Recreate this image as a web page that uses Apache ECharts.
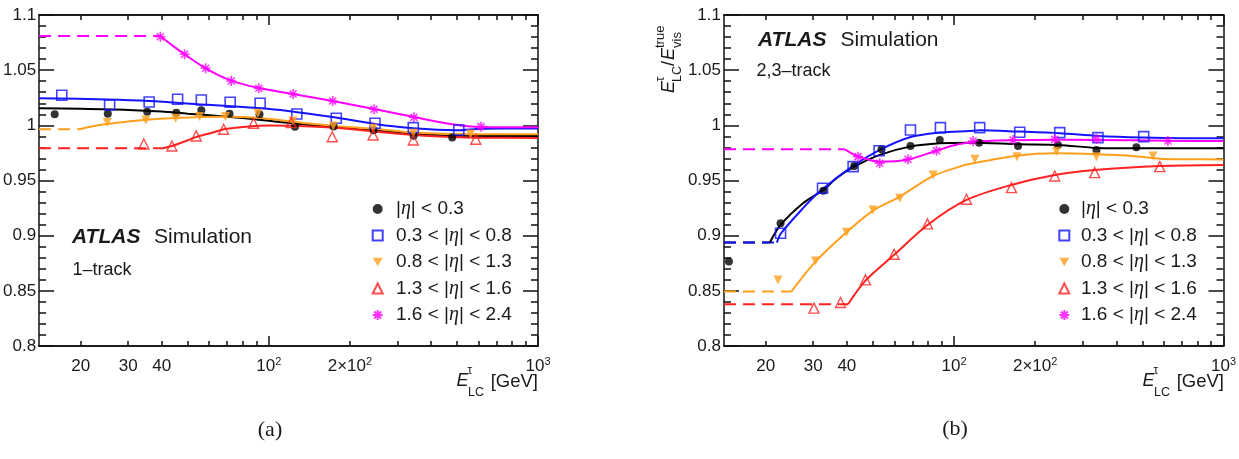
<!DOCTYPE html>
<html>
<head>
<meta charset="utf-8">
<title>tau energy response</title>
<script src="https://cdn.jsdelivr.net/npm/echarts@6.0.0/dist/echarts.min.js"></script>
<style>
    html, body { margin: 0; padding: 0; background: #fff; }
    #main { width: 1239px; height: 459px; }
</style>
</head>
<body>
<div id="main"></div>
<script>
    var bins = ['|η| < 0.3', '0.3 < |η| < 0.8', '0.8 < |η| < 1.3', '1.3 < |η| < 1.6', '1.6 < |η| < 2.4'];
    var xLabelTicks = [20, 30, 40, 100, 200, 1000];
    var xMajorTicks = [100, 1000];
    var xMinorTicks = [20, 30, 40, 50, 60, 70, 80, 90, 200, 300, 400, 500, 600, 700, 800, 900];

    // (a) 1-track : points [E, ratio], fit curve, flat extrapolation
    var aBlackPts = [[16.0, 1.0100], [25.2, 1.0106], [35.3, 1.0124], [45.3, 1.0115], [56.1, 1.0136], [71.4, 1.0106], [92.3, 1.0100], [125, 0.9988], [174, 0.9990], [245, 0.9955], [345, 0.9905], [480, 0.9890]];
    var aBlackFit = [[14, 1.0155], [20, 1.0150], [30, 1.0140], [40, 1.0125], [50, 1.0105], [65, 1.0085], [85, 1.0060], [110, 1.0030], [140, 1.0005], [175, 0.9985], [245, 0.9955], [345, 0.9925], [480, 0.9905], [1000, 0.9903]];
    var aBluePts = [[17.0, 1.0272], [25.6, 1.0185], [35.9, 1.0212], [45.8, 1.0236], [56.1, 1.0230], [71.8, 1.0209], [92.8, 1.0200], [127, 1.0103], [178, 1.0064], [248, 1.0019], [344, 0.9979], [508, 0.9958]];
    var aBlueFit = [[14, 1.0245], [25, 1.0235], [36, 1.0221], [57, 1.0188], [93, 1.0155], [116, 1.0133], [175, 1.0073], [248, 1.0012], [344, 0.9973], [500, 0.9955], [620, 0.9970], [1000, 0.9972]];
    var aOrangePts = [[25.1, 1.0025], [34.9, 1.0049], [45.0, 1.0064], [55.2, 1.0079], [69.0, 1.0079], [91.0, 1.0110], [123, 1.0040], [173.5, 0.9994], [244, 0.9973], [344, 0.9928], [562, 0.9922]];
    var aOrangeFit = [[19.6, 0.9964], [22, 0.9990], [25, 1.0012], [30, 1.0035], [35, 1.0050], [45, 1.0066], [56, 1.0075], [70, 1.0078], [91, 1.0068], [125, 1.0030], [175, 0.9995], [245, 0.9968], [345, 0.9935], [560, 0.9920], [1000, 0.9920]];
    var aOrangeDash = [[14, 0.9964], [19.6, 0.9964]];
    var aRedPts = [[34.3, 0.9831], [43.6, 0.9813], [53.7, 0.9904], [67.9, 0.9964], [87.7, 1.0019], [121, 1.0025], [172, 0.9897], [244, 0.9913], [344, 0.9867], [587, 0.9874]];
    var aRedFit = [[40.4, 0.9792], [44, 0.9815], [50, 0.9865], [54, 0.9895], [62, 0.9935], [68, 0.9965], [80, 0.9985], [88, 0.9994], [100, 0.9998], [120, 0.9996], [175, 0.9979], [245, 0.9945], [345, 0.9913], [480, 0.9895], [600, 0.9888], [1000, 0.9886]];
    var aRedDash = [[14, 0.9792], [40.4, 0.9792]];
    var aMagPts = [[39.5, 1.0803], [48.6, 1.0644], [58.2, 1.0517], [72.5, 1.0402], [91.8, 1.0336], [123, 1.0284], [172.6, 1.0221], [246, 1.0146], [346, 1.0073], [614, 0.9988]];
    var aMagFit = [[39.5, 1.0810], [44, 1.0720], [48.6, 1.0644], [58.2, 1.0517], [72.5, 1.0405], [91.8, 1.0338], [123, 1.0284], [172.6, 1.0221], [246, 1.0148], [346, 1.0075], [480, 1.0010], [614, 0.9985], [1000, 0.9982]];
    var aMagDash = [[14, 1.0810], [39.5, 1.0810]];

    // (b) 2,3-track
    var bBlackPts = [[14.6, 0.8765], [22.7, 0.9113], [32.7, 0.9408], [42.6, 0.9632], [53.8, 0.9783], [68.9, 0.9813], [88.5, 0.9867], [123.8, 0.9843], [172.8, 0.9813], [243, 0.9822], [337.7, 0.9777], [475, 0.9801]];
    var bBlackFit = [[20.7, 0.8937], [22.7, 0.9097], [27.5, 0.9294], [32.7, 0.9415], [37, 0.9530], [42.2, 0.9620], [53, 0.9732], [68.5, 0.9807], [88.5, 0.9838], [114, 0.9843], [175, 0.9829], [245, 0.9822], [340, 0.9795], [475, 0.9792], [1000, 0.9792]];
    var bBlackDash = [[14, 0.8937], [20.7, 0.8937]];
    var bBluePts = [[22.7, 0.9022], [32.5, 0.9430], [42.2, 0.9626], [52.7, 0.9770], [68.9, 0.9958], [89, 0.9979], [124.5, 0.9979], [175.3, 0.9937], [246.7, 0.9934], [342, 0.9889], [505.7, 0.9898]];
    var bBlueFit = [[22, 0.8937], [22.8, 0.9022], [27.5, 0.9249], [31.7, 0.9400], [42.2, 0.9632], [53, 0.9777], [68.5, 0.9892], [88.5, 0.9934], [114, 0.9949], [124.5, 0.9955], [175, 0.9943], [247, 0.9928], [342, 0.9904], [500, 0.9889], [700, 0.9883], [1000, 0.9883]];
    var bBlueDash = [[14, 0.8937], [22, 0.8937]];
    var bOrangePts = [[22.2, 0.8599], [30.6, 0.8771], [39.9, 0.9031], [50.0, 0.9233], [62.9, 0.9339], [83.6, 0.9550], [119.4, 0.9693], [171.3, 0.9716], [239.9, 0.9762], [337.7, 0.9716], [547.4, 0.9722]];
    var bOrangeFit = [[24.9, 0.8493], [30.6, 0.8765], [39.9, 0.9031], [50, 0.9227], [62.9, 0.9354], [83.6, 0.9541], [105, 0.9626], [114.3, 0.9650], [170, 0.9725], [240, 0.9747], [338, 0.9738], [461, 0.9722], [580, 0.9698], [727, 0.9693], [1000, 0.9690]];
    var bOrangeDash = [[14, 0.8493], [24.9, 0.8493]];
    var bRedPts = [[30.2, 0.8343], [37.9, 0.8394], [46.9, 0.8599], [59.9, 0.8832], [79.7, 0.9107], [111.2, 0.9330], [163.3, 0.9435], [236.5, 0.9541], [332.7, 0.9571], [580, 0.9626]];
    var bRedFit = [[40.4, 0.8379], [46.9, 0.8593], [59.9, 0.8826], [79.7, 0.9097], [111.2, 0.9324], [163.3, 0.9460], [236.5, 0.9550], [332.7, 0.9596], [580, 0.9632], [1000, 0.9641]];
    var bRedDash = [[14, 0.8379], [40.4, 0.8379]];
    var bMagPts = [[44.0, 0.9716], [53.0, 0.9656], [67.5, 0.9693], [86.0, 0.9770], [117.6, 0.9858], [165.5, 0.9867], [236.5, 0.9873], [337.7, 0.9876], [622, 0.9858]];
    var bMagFit = [[39.3, 0.9783], [44, 0.9720], [53, 0.9670], [67.5, 0.9690], [86, 0.9770], [100, 0.9820], [117.6, 0.9850], [165.5, 0.9865], [236.5, 0.9870], [337.7, 0.9868], [622, 0.9860], [1000, 0.9858]];
    var bMagDash = [[14, 0.9783], [39.3, 0.9783]];

    var FONT = 'Liberation Sans';
    var TEXT = '#1a1a1a';
    var colors = ['#000000', '#1414ff', '#ff9f1c', '#ff2020', '#ff00ff'];
    var STAR = 'path://M5,0L5,10M0,5L10,5M1.5,1.5L8.5,8.5M8.5,1.5L1.5,8.5';
    var DOWN = 'path://M0,0L10,0L5,8.7Z';

    var markers = [
        {symbol: 'circle', symbolSize: 8, itemStyle: {color: colors[0]}},
        {symbol: 'rect', symbolSize: 10, itemStyle: {color: 'transparent', borderColor: colors[1], borderWidth: 1.6}},
        {symbol: DOWN, symbolSize: 9, itemStyle: {color: colors[2]}},
        {symbol: 'triangle', symbolSize: 10, itemStyle: {color: 'transparent', borderColor: colors[3], borderWidth: 1.4}},
        {symbol: STAR, symbolSize: 10, itemStyle: {color: colors[4], borderColor: colors[4], borderWidth: 1.6}}
    ];

    /**
     * one eta bin: dashed extrapolation, fit curve, markers
     */
    function binSeries(g, i, pts, fit, dash) {
        var list = [];
        var axes = {xAxisIndex: g * 4, yAxisIndex: g * 2};
        if (dash) {
            list.push(Object.assign({
                type: 'line', name: bins[i] + ' ext', data: dash, symbol: 'none', silent: true, z: 2,
                lineStyle: {color: colors[i], width: 2, type: [12, 7]}
            }, axes));
        }
        list.push(Object.assign({
            type: 'line', name: bins[i] + ' fit', data: fit, symbol: 'none', smooth: 0.3, silent: true, z: 3,
            lineStyle: {color: colors[i], width: 2}
        }, axes));
        list.push(Object.assign({
            type: 'scatter', name: bins[i], data: pts, z: 5,
            symbol: markers[i].symbol, symbolSize: markers[i].symbolSize,
            itemStyle: markers[i].itemStyle
        }, axes));
        return list;
    }

    function xLabel(v) {
        v = Math.round(v);
        if (v === 100) return '10{sup|2}';
        if (v === 200) return '2×10{sup|2}';
        if (v === 1000) return '10{sup|3}';
        return String(v);
    }

    function xAxes(g) {
        var line = {color: '#111', width: 1.5};
        var base = function (pos, ticks, len, labels) {
            return {
                type: 'log', logBase: 10, gridIndex: g, position: pos, min: 14, max: 1000,
                splitLine: {show: false},
                axisLine: {show: true, onZero: false, lineStyle: line},
                axisTick: {show: true, inside: true, length: len, customValues: ticks, lineStyle: line},
                axisLabel: labels ? {
                    customValues: xLabelTicks, formatter: xLabel, margin: 10,
                    fontFamily: FONT, fontSize: 17, color: TEXT, lineHeight: 21,
                    rich: {sup: {fontFamily: FONT, fontSize: 11, color: TEXT, verticalAlign: 'top', lineHeight: 12}}
                } : {show: false}
            };
        };
        return [
            base('bottom', xMajorTicks, 10, true),
            base('bottom', xMinorTicks, 5, false),
            base('top', xMajorTicks, 10, false),
            base('top', xMinorTicks, 5, false)
        ];
    }

    function yAxes(g) {
        var line = {color: '#111', width: 1.5};
        var base = function (pos, labels) {
            return {
                type: 'value', gridIndex: g, position: pos, min: 0.8, max: 1.1, interval: 0.05,
                splitLine: {show: false},
                axisLine: {show: true, onZero: false, lineStyle: line},
                axisTick: {show: true, inside: true, length: 15, lineStyle: line},
                minorTick: {show: true, splitNumber: 5, length: 7, lineStyle: line},
                minorSplitLine: {show: false},
                axisLabel: labels ? {margin: 3, fontFamily: FONT, fontSize: 17, color: TEXT} : {show: false}
            };
        };
        return [base('left', true), base('right', false)];
    }

    function legend(left, pad) {
        return {
            orient: 'vertical', left: left, top: 199, padding: 0,
            data: bins, itemWidth: 10, itemHeight: 10, itemGap: 6.5, selectedMode: false,
            formatter: function (n) {
                return n.replace('η', '{i|η}');
            },
            textStyle: {
                fontFamily: FONT, fontSize: 19, color: TEXT, lineHeight: 20, padding: [0, 0, 0, pad],
                rich: {i: {fontFamily: 'Liberation Serif', fontStyle: 'italic', fontSize: 20, color: TEXT}}
            }
        };
    }

    function txt(x, y, s, size, extra) {
        return {
            type: 'text', x: x, y: y, z: 50, silent: true,
            style: Object.assign({text: s, fontFamily: FONT, fontSize: size, fill: TEXT,
                align: 'left', verticalAlign: 'middle'}, extra || {})
        };
    }

    /**
     * x axis title E^tau_LC [GeV], dx shifts it to the panel
     */
    function xTitle(dx) {
        return [
            txt(456.5 + dx, 381, 'E', 18, {fontStyle: 'italic'}),
            txt(467.5 + dx, 371, 'τ', 12),
            txt(468 + dx, 393, 'LC', 12.5),
            txt(538 + dx, 382, '[GeV]', 18.5, {align: 'right'})
        ];
    }

    function yTitle() {
        return {
            type: 'group', x: 669, y: 93, rotation: Math.PI / 2, silent: true,
            children: [
                txt(0, 0, 'E', 18, {fontStyle: 'italic'}),
                txt(11.5, -8, 'τ', 12),
                txt(11, 8.5, 'LC', 12.5),
                txt(27, 0, '/', 18),
                txt(33, 0, 'E', 18, {fontStyle: 'italic'}),
                txt(45, -9, 'true', 13),
                txt(45, 8.5, 'vis', 13)
            ]
        };
    }

    var series = [].concat(
        binSeries(0, 0, aBlackPts, aBlackFit, null),
        binSeries(0, 1, aBluePts, aBlueFit, null),
        binSeries(0, 2, aOrangePts, aOrangeFit, aOrangeDash),
        binSeries(0, 3, aRedPts, aRedFit, aRedDash),
        binSeries(0, 4, aMagPts, aMagFit, aMagDash),
        binSeries(1, 0, bBlackPts, bBlackFit, bBlackDash),
        binSeries(1, 1, bBluePts, bBlueFit, bBlueDash),
        binSeries(1, 2, bOrangePts, bOrangeFit, bOrangeDash),
        binSeries(1, 3, bRedPts, bRedFit, bRedDash),
        binSeries(1, 4, bMagPts, bMagFit, bMagDash)
    );

    var graphics = [
        txt(72, 237, 'ATLAS', 21, {fontWeight: 'bold', fontStyle: 'italic'}),
        txt(154, 237, 'Simulation', 21),
        txt(72.5, 270, '1–track', 18),
        txt(758, 40, 'ATLAS', 21, {fontWeight: 'bold', fontStyle: 'italic'}),
        txt(840.5, 40, 'Simulation', 21),
        txt(756.5, 71.5, '2,3–track', 18),
        txt(270, 430, '(a)', 22, {fontFamily: 'Liberation Serif', align: 'center'}),
        txt(955, 429, '(b)', 22, {fontFamily: 'Liberation Serif', align: 'center'}),
        yTitle()
    ].concat(xTitle(0), xTitle(686));

    var chart = echarts.init(document.getElementById('main'), null, {renderer: 'canvas'});
    chart.setOption({
        animation: false,
        backgroundColor: '#ffffff',
        grid: [
            {left: 38, top: 15, width: 500, height: 331},
            {left: 724, top: 15, width: 500, height: 331}
        ],
        xAxis: xAxes(0).concat(xAxes(1)),
        yAxis: yAxes(0).concat(yAxes(1)),
        legend: [legend(371.7, 8.3), legend(1058.3, 6.7)],
        graphic: graphics,
        series: series
    });
</script>
</body>
</html>
